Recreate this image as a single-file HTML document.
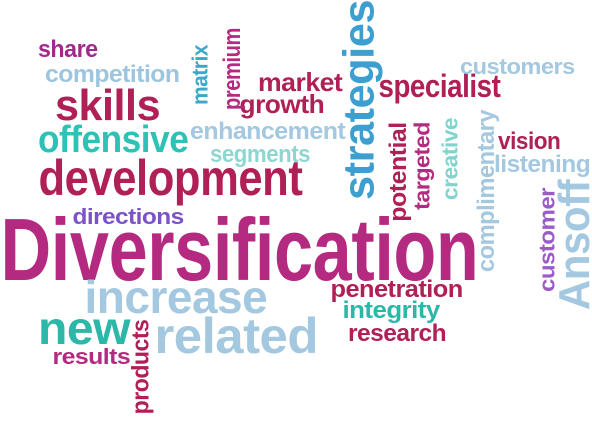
<!DOCTYPE html>
<html><head><meta charset="utf-8"><style>
html,body{margin:0;padding:0;background:#fff;}
#cloud{position:relative;width:592px;height:422px;overflow:hidden;background:#fff;}
.w{position:absolute;left:0;top:0;white-space:nowrap;line-height:1;font-family:"Liberation Sans",sans-serif;font-weight:bold;letter-spacing:-0.5px;transform-origin:center center;}
</style></head><body>
<div id="cloud"></div>
<script>
const words=["share","competition","skills","offensive","development","directions","Diversification","increase","new","related","results","market","growth","enhancement","segments","specialist","customers","vision","listening","penetration","integrity","research","products","matrix","premium","strategies","potential","targeted","creative","complimentary","customer","Ansoff"];
const centerX=[68,112,107,113,170,128,239,176,84,236,91,300,282,267,260,439,517,529,542,396,391,397,141,200,233,359,399,422,450,487,547,575];
const centerY=[50,75,106,140,178,217,250,297,328,336,357,82,104,132,155,86,67,142,165,290,311,334,367,75,69,100,172,166,159,191,240,245];
const spans=[60,135,105,150,264,111,478,183,92,163,78,84,85,155,100,122,115,62,96,132,97,98,95,60,82,200,100,88,82,162,104,130];
const sizes=[24,24,44,38,50,22,88,46,46,50,22,26,26,24,24,32,22,24,24,24,24,24,24,22,24,44,24,22,22,24,22,44];
const vertical=[0,0,0,0,0,0,0,0,0,0,0,0,0,0,0,0,0,0,0,0,0,0,1,1,1,1,1,1,1,1,1,1];
const colors=["#a02a8c","#9cc5e0","#b01f55","#2dc2b5","#b01f55","#7b52c8","#b42a80","#a3c8e0","#2bb8a8","#a3c8e0","#b42a80","#b01f55","#b01f55","#a3c8e0","#8fd6d2","#b01f55","#a3c8e0","#b01f55","#a3c8e0","#b01f55","#2bb8a8","#b01f55","#b01f55","#3aa8c8","#b42a80","#3d9fd0","#b01f55","#b42a80","#7fd4cc","#a3c8e0","#9b5cc9","#a3c8e0"];
const cloud=document.getElementById('cloud');
words.forEach((t,i)=>{
  const s=document.createElement('span');
  s.className='w';
  s.textContent=t;
  
  
  s.style.fontSize=sizes[i]+'px';
  s.style.color=colors[i];
  cloud.appendChild(s);
  const nw=s.offsetWidth, nh=s.offsetHeight;
  const sc=spans[i]/nw;
  const l=centerX[i]-nw/2, tp=centerY[i]-nh/2;
  s.style.left=l+'px'; s.style.top=tp+'px';
  s.style.transform=(vertical[i]?'rotate(-90deg) ':'')+'scaleX('+sc+')';
});
</script>
</body></html>
